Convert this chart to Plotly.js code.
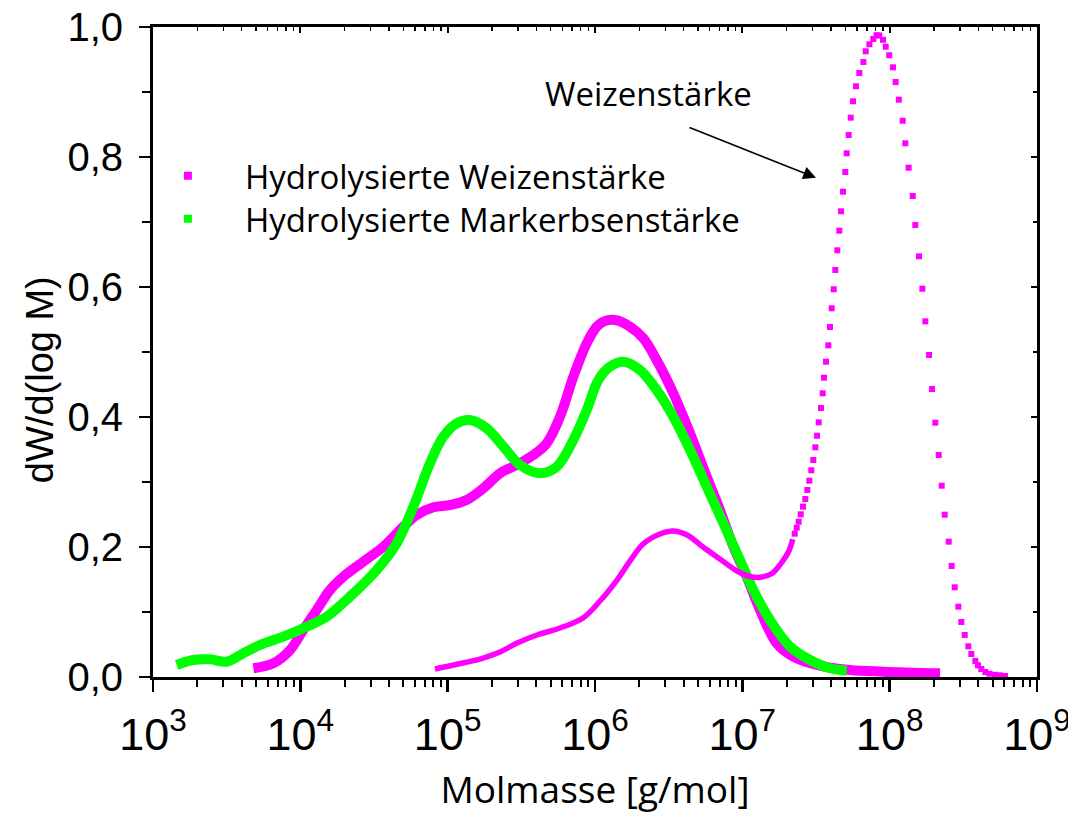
<!DOCTYPE html>
<html><head><meta charset="utf-8">
<script src="https://cdn.plot.ly/plotly-3.0.1.min.js"></script>
<style>html,body{margin:0;padding:0;background:#fff}#chart{width:1068px;height:814px}</style>
</head><body><div id="chart"></div>
<script>
// Hydrolysierte Weizenstärke (thick magenta)
const hwM = [4.80e3,6.56e3,8.51e3,1.047e4,1.291e4,1.589e4,1.958e4,2.675e4,3.656e4,5.00e4,6.17e4,8.00e4,1.037e5,1.346e5,1.746e5,2.265e5,2.94e5,3.81e5,4.70e5,5.79e5,7.13e5,8.79e5,1.028e6,1.14e6,1.367e6,1.729e6,2.128e6,2.62e6,3.40e6,4.42e6,5.73e6,7.05e6,8.69e6,1.071e7,1.318e7,1.711e7,2.22e7,3.20e7,5.38e7,9.06e7,2.20e8];
const hwY = [0.0134,0.0211,0.0415,0.0723,0.1031,0.1338,0.1543,0.1774,0.2005,0.2312,0.2492,0.2611,0.2646,0.2723,0.2903,0.3134,0.3262,0.3415,0.3595,0.4005,0.4620,0.5134,0.5389,0.5466,0.5492,0.5389,0.5211,0.4877,0.4365,0.3749,0.3082,0.2569,0.2005,0.1543,0.1031,0.0518,0.0312,0.0185,0.0108,0.0082,0.0057];
// Hydrolysierte Markerbsenstärke (thick green)
const hpM = [1.448e3,1.877e3,2.44e3,3.16e3,4.10e3,5.32e3,7.66e3,1.047e4,1.51e4,2.17e4,3.30e4,4.51e4,5.85e4,7.59e4,9.34e4,1.151e5,1.419e5,1.841e5,2.39e5,3.10e5,4.24e5,5.50e5,7.13e5,8.79e5,1.054e6,1.264e6,1.556e6,2.02e6,2.62e6,3.40e6,4.42e6,5.73e6,7.43e6,9.64e6,1.188e7,1.542e7,2.11e7,2.88e7,3.94e7,5.11e7];
const hpY = [0.0185,0.0262,0.0272,0.0235,0.0365,0.0492,0.0620,0.0749,0.0928,0.1235,0.1646,0.2057,0.2620,0.3288,0.3697,0.3903,0.3954,0.3826,0.3543,0.3262,0.3134,0.3235,0.3646,0.4108,0.4569,0.4774,0.4851,0.4723,0.4415,0.4005,0.3492,0.2928,0.2365,0.1800,0.1338,0.0877,0.0466,0.0262,0.0134,0.0097];
// Weizenstärke (native), dense low part
const wsLowM = [8.20e4,1.271e5,1.738e5,2.265e5,2.96e5,4.04e5,5.79e5,8.29e5,1.081e6,1.41e6,1.729e6,2.12e6,2.76e6,3.39e6,4.22e6,5.41e6,7.05e6,9.20e6,1.127e7,1.318e7,1.589e7,1.858e7,2.07e7,2.20e7];
const wsLowY = [0.0123,0.0215,0.0292,0.0385,0.0523,0.0646,0.0754,0.0908,0.1169,0.1492,0.1785,0.2046,0.2200,0.2246,0.2185,0.2000,0.1815,0.1631,0.1546,0.1534,0.1592,0.1769,0.1938,0.2118];
// Weizenstärke (native), separated points of the main peak
const wsPeakM = [2.268e7,2.339e7,2.413e7,2.490e7,2.582e7,2.676e7,2.761e7,2.849e7,2.939e7,3.032e7,3.128e7,3.213e7,3.299e7,3.420e7,3.512e7,3.584e7,3.698e7,3.833e7,3.936e7,4.042e7,4.171e7,4.277e7,4.413e7,4.553e7,4.676e7,4.825e7,5.00e7,5.11e7,5.27e7,5.44e7,5.64e7,5.91e7,6.22e7,6.63e7,6.88e7,7.28e7,7.74e7,8.14e7,8.49e7,9.01e7,9.40e7,9.93e7,1.054e8,1.099e8,1.154e8,1.226e8,1.277e8,1.345e8,1.434e8,1.493e8,1.582e8,1.666e8,1.746e8,1.850e8,1.939e8,2.041e8,2.152e8,2.256e8,2.364e8,2.516e8,2.637e8,2.763e8,2.924e8,3.064e8,3.231e8,3.419e8,3.583e8,3.814e8,3.978e8,4.19e8,4.46e8,4.75e8,5.19e8,5.61e8,6.07e8];
const wsPeakY = [0.2205,0.2297,0.2389,0.2503,0.2620,0.2738,0.2877,0.3020,0.3180,0.3338,0.3534,0.3712,0.3918,0.4138,0.4365,0.4605,0.4851,0.5103,0.5385,0.5672,0.5965,0.6262,0.6565,0.6866,0.7165,0.7466,0.7769,0.8057,0.8338,0.8605,0.8857,0.9088,0.9292,0.9462,0.9626,0.9734,0.9815,0.9874,0.9869,0.9803,0.9697,0.9565,0.9380,0.9154,0.8882,0.8558,0.8211,0.7835,0.7400,0.6954,0.6472,0.5974,0.5472,0.4954,0.4431,0.3912,0.3415,0.2943,0.2497,0.2082,0.1708,0.1380,0.1082,0.0846,0.0646,0.0472,0.0354,0.0246,0.0180,0.0123,0.0077,0.0051,0.0035,0.0026,0.0015];

const seriesNames = ['Hydrolysierte Weizenstärke','Hydrolysierte Markerbsenstärke'];
const annText = 'Weizenstärke';
const xTitle = 'Molmasse [g/mol]';
const yTitle = 'dW/d(log M)';
const MAG = '#ff00ff', GRN = '#00ff00';
const TXT = 'Open Sans';

const traces = [
  {x: hwM, y: hwY, mode:'lines', line:{color:MAG, width:10, shape:'spline'}, showlegend:false, hoverinfo:'skip'},
  {x: hpM, y: hpY, mode:'lines', line:{color:GRN, width:10, shape:'spline'}, showlegend:false, hoverinfo:'skip'},
  {x: wsLowM, y: wsLowY, mode:'lines', line:{color:MAG, width:5.5, shape:'spline'}, showlegend:false, hoverinfo:'skip'},
  {x: wsPeakM, y: wsPeakY, mode:'markers', marker:{color:MAG, size:6, symbol:'square'}, showlegend:false, hoverinfo:'skip'},
  // legend-only entries (no data); they also tie the mirror axes to the plot
  {x: [null], y: [null], xaxis:'x2', yaxis:'y', mode:'markers', name: seriesNames[0], legend:'legend', marker:{color:MAG, size:8, symbol:'square'}},
  {x: [null], y: [null], xaxis:'x', yaxis:'y2', mode:'markers', name: seriesNames[1], legend:'legend2', marker:{color:GRN, size:8, symbol:'square'}}
];

const legBase = {xanchor:'left', yanchor:'middle', bgcolor:'rgba(0,0,0,0)', borderwidth:0,
  font:{family:TXT, size:33, color:'#000'}, itemwidth:104};

const layout = {
  width:1068, height:814,
  margin:{l:153, r:31, t:27, b:137},
  paper_bgcolor:'#fff', plot_bgcolor:'#fff',
  separators:',.',
  showlegend:true,
  legend:Object.assign({x:-0.025, y:0.771}, legBase),
  legend2:Object.assign({x:-0.025, y:0.705}, legBase),
  xaxis:{type:'log', range:[3,9], dtick:1, exponentformat:'power', showgrid:false, zeroline:false,
    showline:true, linewidth:3, linecolor:'#000', mirror:true,
    ticks:'outside', ticklen:12, tickwidth:2.5, tickcolor:'#000',
    minor:{ticks:'outside', ticklen:7, tickwidth:2, tickcolor:'#000', dtick:'D1', showgrid:false},
    tickfont:{family:'Liberation Sans Narrow, Liberation Sans', size:36, color:'#000'},
    ticklabelstandoff:6, ticklabeloverflow:'allow',
    title:{text:xTitle, font:{family:TXT, size:37, color:'#000'}, standoff:20}},
  yaxis:{range:[0,1.0], dtick:0.2, tickformat:'.1f', showgrid:false, zeroline:false,
    showline:true, linewidth:3, linecolor:'#000', mirror:true,
    ticks:'outside', ticklen:11, tickwidth:2.5, tickcolor:'#000',
    minor:{ticks:'outside', ticklen:8, tickwidth:2, tickcolor:'#000', dtick:0.1, showgrid:false},
    tickfont:{family:'Liberation Sans', size:40, color:'#000'},
    ticklabelstandoff:8},
  xaxis2:{type:'log', range:[3,9], autorange:false, dtick:1, overlaying:'x', anchor:'y', side:'top',
    showline:false, showgrid:false, zeroline:false, showticklabels:false,
    ticks:'inside', ticklen:6, tickwidth:2, tickcolor:'#000',
    minor:{ticks:'inside', ticklen:4, tickwidth:1.5, tickcolor:'#000', dtick:'D1', showgrid:false}},
  yaxis2:{range:[0,1.0], autorange:false, dtick:0.2, overlaying:'y', anchor:'x', side:'right',
    showline:false, showgrid:false, zeroline:false, showticklabels:false,
    ticks:'inside', ticklen:6, tickwidth:2, tickcolor:'#000',
    minor:{ticks:'inside', ticklen:4, tickwidth:1.5, tickcolor:'#000', dtick:0.1, showgrid:false}},
  annotations:[
    {x:-0.128, y:0.458, xref:'paper', yref:'paper', xanchor:'center', yanchor:'middle',
     text:yTitle, textangle:-90, showarrow:false,
     font:{family:'Liberation Sans', size:38, color:'#000'}},
    {x:6.36, y:0.898, xref:'x', yref:'y', text:annText, showarrow:false,
     font:{family:TXT, size:33, color:'#000'}},
    {x:7.5, y:0.768, xref:'x', yref:'y', ax:-128, ay:-51, text:'', showarrow:true,
     arrowhead:2, arrowsize:1.6, arrowwidth:1.6, arrowcolor:'#000', standoff:0}
  ]
};

Plotly.newPlot('chart', traces, layout, {displayModeBar:false, staticPlot:true});
</script>
</body></html>
